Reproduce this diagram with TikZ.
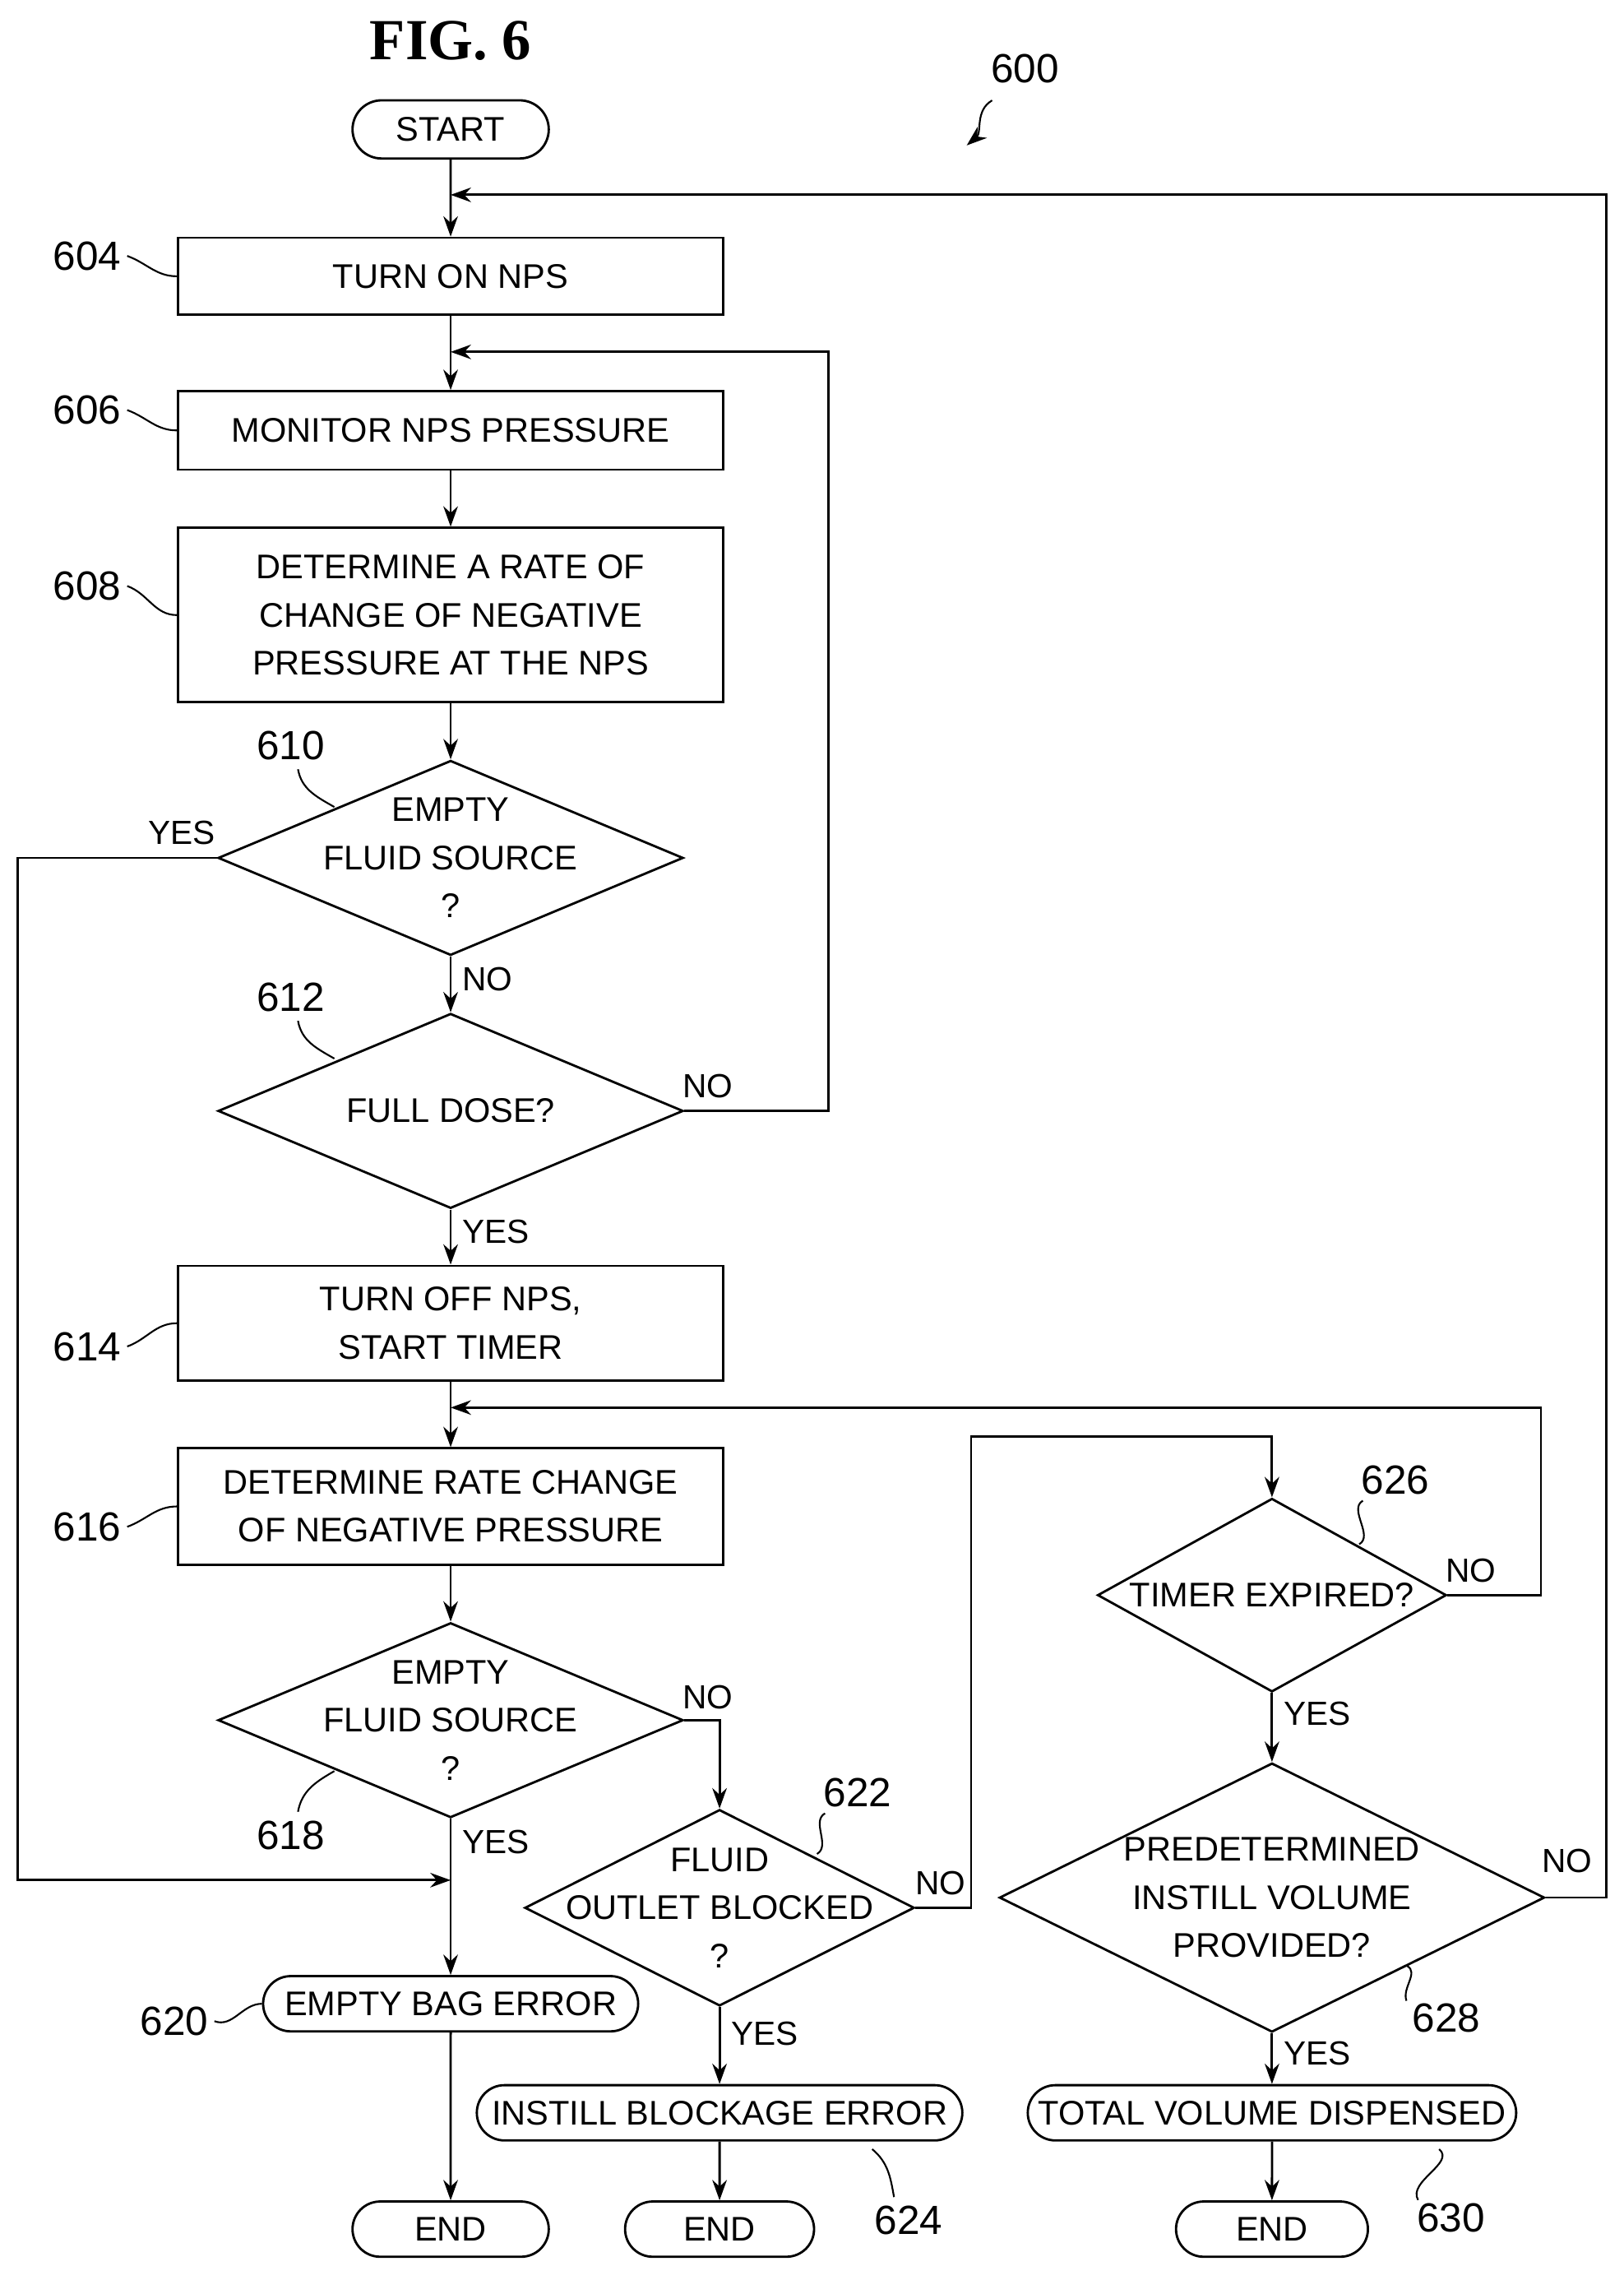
\documentclass[tikz,border=0pt]{standalone}
\usepackage{fontspec}
\setmainfont{Liberation Sans}
\newfontfamily\serifx{Liberation Serif}
\usetikzlibrary{shapes.geometric,shapes.misc,arrows.meta}
\begin{document}
\begin{tikzpicture}[x=1pt,y=-1pt,line width=1.6pt,
  txt/.style={font=\fontsize{23.5}{33}\selectfont,align=center},
  box/.style={draw,rectangle,minimum width=375,txt,inner sep=0},
  term/.style={draw,rounded rectangle,minimum height=38,txt,inner sep=0},
  dia/.style={draw,diamond,txt,inner sep=0},
  lab/.style={font=\fontsize{28}{30}\selectfont},
  yn/.style={font=\fontsize{23}{24}\selectfont},
  arr/.style={-{Stealth[length=14,width=10]}},
  lead/.style={line width=1.2pt}]
\useasboundingbox (0,0) rectangle (1117,1568);
\node[font=\serifx\bfseries\fontsize{40}{44}\selectfont] (fig) at (310,28) {FIG. 6};
\node[lab] (n600) at (705,47) {600};
\coordinate (a600) at (665,100);
\draw[arr,line width=1.2pt] (n600.south west) ++(5,8) to[out=-150,in=40] (a600);
\node[term,minimum width=135,minimum height=40] (start) at (310,89) {START};
\node[box,minimum height=53] (b604) at (310,190) {TURN ON NPS};
\node[box,minimum height=54] (b606) at (310,296) {MONITOR NPS PRESSURE};
\node[box,minimum height=120] (b608) at (310,423) {DETERMINE A RATE OF\\CHANGE OF NEGATIVE\\PRESSURE AT THE NPS};
\node[dia,minimum width=320,minimum height=134] (d610) at (310,590) {};
\node[txt] (t610) at (310,590) {EMPTY\\FLUID SOURCE\\?};
\node[dia,minimum width=320,minimum height=134] (d612) at (310,764) {};
\node[txt] (t612) at (310,764) {FULL DOSE?};
\node[box,minimum height=79] (b614) at (310,910) {TURN OFF NPS,\\START TIMER};
\node[box,minimum height=80] (b616) at (310,1036) {DETERMINE RATE CHANGE\\OF NEGATIVE PRESSURE};
\node[dia,minimum width=320,minimum height=134] (d618) at (310,1183) {};
\node[txt] (t618) at (310,1183) {EMPTY\\FLUID SOURCE\\?};
\node[dia,minimum width=268,minimum height=135] (d622) at (495,1312) {};
\node[txt] (t622) at (495,1312) {FLUID\\OUTLET BLOCKED\\?};
\node[dia,minimum width=240,minimum height=133] (d626) at (875,1097) {};
\node[txt] (t626) at (875,1097) {TIMER EXPIRED?};
\node[dia,minimum width=375,minimum height=185] (d628) at (875,1305) {};
\node[txt] (t628) at (875,1305) {PREDETERMINED\\INSTILL VOLUME\\PROVIDED?};
\node[term,minimum width=258] (e620) at (310,1378) {EMPTY BAG ERROR};
\node[term,minimum width=334] (e624) at (495,1453) {INSTILL BLOCKAGE ERROR};
\node[term,minimum width=336] (e630) at (875,1453) {TOTAL VOLUME DISPENSED};
\node[term,minimum width=135] (end1) at (310,1533) {END};
\node[term,minimum width=130] (end2) at (495,1533) {END};
\node[term,minimum width=132] (end3) at (875,1533) {END};
\coordinate (j134) at (310,134);
\coordinate (j242) at (310,242);
\coordinate (j968) at (310,968);
\coordinate (j1293) at (310,1293);
\coordinate (r1) at (1105,134);
\coordinate (r2) at (1105,1305);
\coordinate (q1) at (570,242);
\coordinate (q2) at (570,764);
\coordinate (p1) at (12,590);
\coordinate (p2) at (12,1293);
\coordinate (s1) at (1060,968);
\coordinate (s2) at (1060,1097);
\coordinate (u1) at (495,1183);
\coordinate (v1) at (668,1312);
\coordinate (v2) at (668,988);
\coordinate (v3) at (875,988);
\draw[arr] (start) -- (b604);
\draw[arr] (b604) -- (b606);
\draw[arr] (b606) -- (b608);
\draw[arr] (b608) -- (d610);
\draw[arr] (d610) -- node[yn,right,pos=0.4,xshift=4]{NO} (d612);
\draw[arr] (d612) -- node[yn,right,pos=0.4,xshift=4]{YES} (b614);
\draw[arr] (b614) -- (b616);
\draw[arr] (b616) -- (d618);
\draw[arr] (d618) -- node[yn,right,pos=0.15,xshift=4]{YES} (e620);
\draw[arr] (e620) -- (end1);
\draw[arr] (d622) -- node[yn,right,pos=0.35,xshift=4]{YES} (e624);
\draw[arr] (e624) -- (end2);
\draw[arr] (d626) -- node[yn,right,pos=0.3,xshift=4]{YES} (d628);
\draw[arr] (d628) -- node[yn,right,pos=0.4,xshift=4]{YES} (e630);
\draw[arr] (e630) -- (end3);
\draw[arr] (d612.east) -- (q2) -- (q1) -- (j242);
\node[yn] at (487,747) {NO};
\draw[arr] (d610.west) -- (p1) -- (p2) -- (j1293);
\node[yn] at (125,573) {YES};
\draw[arr] (d618.east) -- (u1) -- (d622.north);
\node[yn] at (487,1167) {NO};
\draw[arr] (d622.east) -- (v1) -- (v2) -- (v3) -- (d626.north);
\node[yn] at (647,1295) {NO};
\draw[arr] (d626.east) -- (s2) -- (s1) -- (j968);
\node[yn] at (1012,1080) {NO};
\draw[arr] (d628.east) -- (r2) -- (r1) -- (j134);
\node[yn] at (1078,1280) {NO};
\node[lab] (l604) at (60,176) {604};
\draw[lead] (l604.east) to[out=-20,in=180] (b604.west);
\node[lab] (l606) at (60,282) {606};
\draw[lead] (l606.east) to[out=-20,in=180] (b606.west);
\node[lab] (l608) at (60,403) {608};
\draw[lead] (l608.east) to[out=-20,in=180] (b608.west);
\node[lab] (l614) at (60,926) {614};
\draw[lead] (l614.east) to[out=20,in=180] (b614.west);
\node[lab] (l616) at (60,1050) {616};
\draw[lead] (l616.east) to[out=20,in=180] (b616.west);
\node[lab] (l610) at (200,513) {610};
\draw[lead] (l610.south) ++(5,2) to[out=-80,in=150] (230,555);
\node[lab] (l612) at (200,686) {612};
\draw[lead] (l612.south) ++(5,2) to[out=-80,in=150] (230,728);
\node[lab] (l618) at (200,1262) {618};
\draw[lead] (l618.north) ++(5,-2) to[out=80,in=-150] (230,1218);
\node[lab] (l620) at (120,1390) {620};
\draw[lead] (l620.east) to[out=-20,in=180] (e620.west);
\node[lab] (l622) at (590,1233) {622};
\draw[lead] (l622.south west) ++(5,0) to[out=-150,in=30] (562,1275);
\node[lab] (l624) at (625,1527) {624};
\draw[lead] (l624.north) ++(-10,-2) to[out=100,in=-40] (600,1478);
\node[lab] (l626) at (960,1018) {626};
\draw[lead] (l626.south west) ++(5,0) to[out=-150,in=30] (935,1062);
\node[lab] (l628) at (995,1388) {628};
\draw[lead] (l628.north west) ++(0,2) to[out=110,in=-30] (968,1352);
\node[lab] (l630) at (998,1525) {630};
\draw[lead] (l630.north west) ++(5,2) to[out=120,in=-40] (990,1478);
\end{tikzpicture}
\end{document}
